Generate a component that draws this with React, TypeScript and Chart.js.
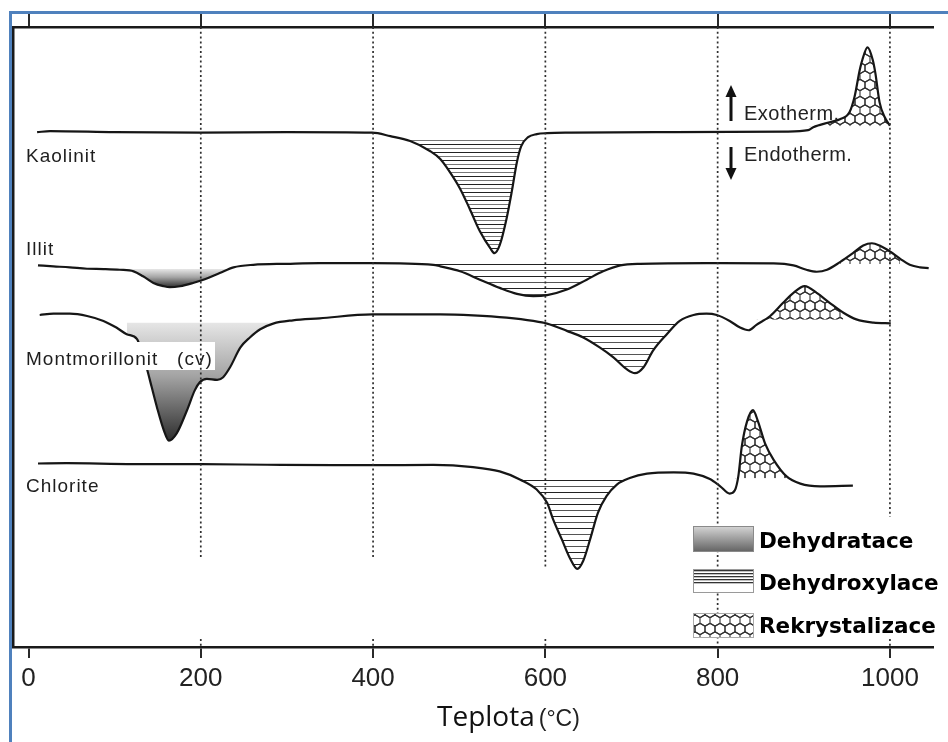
import React, { useEffect, useRef } from "react";
import { Chart, registerables } from "chart.js";

Chart.register(...registerables);

// ---------- data (temperature in °C, signal in arbitrary DTA units) ----------
const tickValues = [0, 200, 400, 600, 800, 1000];

const kaolinitTemp = [10, 25, 100, 200, 300, 399, 420, 443, 466, 478, 489, 501, 512, 524, 536, 541, 547, 555, 561, 567, 572, 580, 590, 602, 630, 750, 880, 905, 911, 930, 942, 953, 959, 965, 968, 974, 980, 983, 988, 994, 1000];
const kaolinitSignal = [519, 520, 519, 518.5, 519, 518.5, 515, 510, 500, 492, 479, 462, 442, 419, 402, 397, 405, 432, 459, 489, 505, 514, 517, 518, 518.5, 519, 519.5, 521, 524, 529, 532, 539, 555, 582, 592, 604.5, 592, 579, 549, 534, 525.5];

const illitTemp = [11, 29, 48, 68, 87, 106, 122, 133, 145, 157, 164, 176, 191, 203, 222, 238, 261, 300, 338, 399, 470, 478, 501, 524, 547, 567, 586, 602, 625, 648, 667, 687, 710, 787, 865, 888, 903, 915, 927, 942, 957, 969, 979, 988, 1000, 1012, 1023, 1035, 1045];
const illitSignal = [384.7, 383.7, 382.7, 381.3, 381, 380.3, 378.7, 373.7, 367, 363.7, 362.7, 363.7, 367, 370.3, 377, 382.7, 385.3, 386.3, 387, 387, 385.3, 383.7, 378.7, 370.3, 362, 356, 353.7, 354.7, 360.3, 370.3, 378.7, 384.7, 386.3, 387, 386.7, 384.7, 380.3, 378.3, 380.3, 388, 397, 404.7, 407, 404.7, 398.7, 391.3, 385.3, 382.7, 382];

const montTemp = [13, 29, 48, 68, 87, 102, 114, 126, 132, 137, 143, 149, 157, 163, 172, 184, 193, 199, 207, 219, 226, 234, 246, 257, 269, 284, 307, 338, 399, 478, 516, 555, 586, 602, 625, 644, 663, 679, 694, 704, 714, 725, 741, 756, 772, 787, 799, 814, 826, 836, 845, 861, 876, 888, 901, 915, 930, 946, 961, 981, 1001];
const montSignal = [334.7, 336, 336, 333.7, 328.7, 322, 315.3, 310.3, 296, 282, 262, 242, 218.7, 208, 215.3, 238.7, 258.7, 267, 270.3, 269.3, 272, 282, 302, 312, 320.3, 326, 329.3, 331.3, 335.3, 335.3, 334.3, 332, 328.7, 326, 318.7, 312, 302, 292, 280.3, 276, 282, 298.7, 315.3, 328.7, 334.7, 336, 334.7, 328.7, 322, 319.3, 324.7, 333.7, 347, 357, 363.7, 357, 347, 337, 330.3, 327, 326.3];

const chloriteTemp = [11, 44, 122, 201, 277, 354, 399, 470, 516, 547, 571, 590, 602, 609, 619, 629, 637, 644, 652, 661, 671, 683, 698, 718, 749, 772, 791, 803, 814, 820, 824, 828, 834, 841, 847, 855, 865, 880, 896, 919, 957];
const chloriteSignal = [185, 185.3, 184.3, 184.3, 183.7, 183.3, 183.3, 183.5, 181.3, 177, 168.7, 158.7, 145.3, 128.7, 108.7, 88.7, 78.7, 87, 108.7, 135.3, 152, 163.7, 170.3, 174.7, 176, 174.7, 169.3, 162, 154.7, 158, 172, 202, 227, 238.7, 227, 205.3, 188.7, 172, 164.7, 162, 162.7];

const curveNames = ["Kaolinit", "Illit", "Montmorillonit   (cv)", "Chlorite"];
const legendLabels = ["Dehydratace", "Dehydroxylace", "Rekrystalizace"];

// phase regions: curve index, pattern, temperature range, baseline, side
const phaseCurve = [0, 0, 1, 1, 1, 2, 2, 2, 3, 3];
const phaseKind = ["hatchDense", "hex", "gradient", "hatch", "hex", "gradient", "hatch", "hex", "hatch", "hex"];
const phaseFrom = [400, 900, 100, 465, 935, 110, 590, 840, 560, 815];
const phaseTo = [600, 1000, 262, 712, 1015, 310, 760, 950, 700, 885];
const phaseBase = [513, 525, 381, 386, 386, 327, 326.5, 330, 169, 170];
const phaseSide = ["below", "above", "below", "below", "above", "below", "below", "above", "below", "above"];

// dotted guide lines
const guideTemps = [200, 400, 600, 800, 1000];
const guideLowerEnds = [88, 88, 81, 0, 131];
const guideTop = 625;
const stubTemps = [200, 400, 600, 1000];
const stubTop = 8;

// ---------------------------------------------------------------------------
const curves = [
  { temp: kaolinitTemp, signal: kaolinitSignal },
  { temp: illitTemp, signal: illitSignal },
  { temp: montTemp, signal: montSignal },
  { temp: chloriteTemp, signal: chloriteSignal },
];

const toPoints = (t: number[], s: number[]) => t.map((x, i) => ({ x, y: s[i] }));

const LINE_FONT = '"Liberation Sans", Arial, sans-serif';

export default function App() {
  const ref = useRef<HTMLCanvasElement>(null);

  useEffect(() => {
    const canvas = ref.current!;
    const mainCtx = canvas.getContext("2d")!;

    const mk = (w: number, h: number, draw: (g: CanvasRenderingContext2D) => void) => {
      const cv = document.createElement("canvas");
      cv.width = w;
      cv.height = h;
      const g = cv.getContext("2d")!;
      draw(g);
      return mainCtx.createPattern(cv, "repeat")!;
    };

    const hatchDense = mk(8, 8, (g) => {
      g.fillStyle = "#222";
      g.fillRect(0, 0, 8, 1);
      g.fillStyle = "#777";
      g.fillRect(0, 4, 8, 1);
    });
    const hatch = mk(8, 12, (g) => {
      g.fillStyle = "#222";
      g.fillRect(0, 0, 8, 1);
      g.fillStyle = "#555";
      g.fillRect(0, 6, 8, 1);
    });
    // pointy-top honeycomb tile
    const hex = mk(10, 17, (g) => {
      g.fillStyle = "#fff";
      g.fillRect(0, 0, 10, 17);
      g.strokeStyle = "#333";
      g.lineWidth = 1.1;
      const s = 17 / 3;
      const hw = 5;
      const centers = [
        [0, 0], [10, 0], [0, 17], [10, 17], [5, 8.5], [5, -8.5], [5, 25.5],
      ];
      for (const [cx, cy] of centers) {
        g.beginPath();
        g.moveTo(cx, cy - s);
        g.lineTo(cx + hw, cy - s / 2);
        g.lineTo(cx + hw, cy + s / 2);
        g.lineTo(cx, cy + s);
        g.lineTo(cx - hw, cy + s / 2);
        g.lineTo(cx - hw, cy - s / 2);
        g.closePath();
        g.stroke();
      }
    });
    const patterns: Record<string, any> = { hatchDense, hatch, hex };

    const gradientFill = (base: number, low: number) => (ctx: any) => {
      const chart = ctx.chart;
      const y = chart.scales && chart.scales.y;
      if (!y) return "#aaa";
      const y0 = y.getPixelForValue(base);
      const y1 = y.getPixelForValue(low);
      if (!isFinite(y0) || !isFinite(y1) || y0 === y1) return "#aaa";
      const g = chart.ctx.createLinearGradient(0, y0, 0, y1);
      g.addColorStop(0, "#e6e6e6");
      g.addColorStop(0.45, "#a4a4a4");
      g.addColorStop(1, "#2e2e2e");
      return g;
    };

    const curveSets = curves.map((c) => ({
      data: toPoints(c.temp, c.signal),
      borderColor: "#161616",
      borderWidth: 2.2,
      pointRadius: 0,
      pointHoverRadius: 0,
      cubicInterpolationMode: "monotone" as const,
      fill: false,
      order: 2,
    }));

    const fillSets = phaseCurve.map((ci, k) => {
      const c = curves[ci];
      const pts = toPoints(c.temp, c.signal).filter((p) => p.x >= phaseFrom[k] && p.x <= phaseTo[k]);
      const low = Math.min(...pts.map((p) => p.y));
      const bg = phaseKind[k] === "gradient" ? gradientFill(phaseBase[k], low) : patterns[phaseKind[k]];
      const fill =
        phaseSide[k] === "below"
          ? { target: { value: phaseBase[k] }, above: "rgba(0,0,0,0)" }
          : { target: { value: phaseBase[k] }, below: "rgba(0,0,0,0)" };
      return {
        data: pts,
        borderColor: "rgba(0,0,0,0)",
        borderWidth: 0,
        backgroundColor: bg,
        pointRadius: 0,
        pointHoverRadius: 0,
        cubicInterpolationMode: "monotone" as const,
        fill,
        order: 3,
      };
    });

    const guideStyle = {
      borderColor: "#2e2e2e",
      borderWidth: 1.7,
      borderDash: [2, 2.8],
      pointRadius: 0,
      pointHoverRadius: 0,
      tension: 0,
      fill: false,
      order: 1,
    };
    const guideSets = guideTemps.map((t, i) => ({
      ...guideStyle,
      data: [
        { x: t, y: guideTop },
        { x: t, y: guideLowerEnds[i] },
      ],
    }));
    const stubSets = stubTemps.map((t) => ({
      ...guideStyle,
      data: [
        { x: t, y: stubTop },
        { x: t, y: 0 },
      ],
    }));

    const labelPlugin = {
      id: "curveLabels",
      afterDatasetDraw(chart: any, args: any) {
        if (args.index !== 0) return;
        const c: CanvasRenderingContext2D = chart.ctx;
        c.save();
        c.fillStyle = "#fff";
        c.fillRect(20, 342, 195, 28);
        c.fillStyle = "#1e1e1e";
        c.font = `19px ${LINE_FONT}`;
        (c as any).letterSpacing = "1px";
        c.textAlign = "left";
        c.textBaseline = "alphabetic";
        const baselines = [162, 255, 365, 492];
        curveNames.forEach((n, i) => c.fillText(n, 26, baselines[i]));
        (c as any).letterSpacing = "0px";
        c.restore();
      },
    };

    const decorPlugin = {
      id: "decor",
      afterDraw(chart: any) {
        const c: CanvasRenderingContext2D = chart.ctx;
        c.save();
        // arrows
        c.fillStyle = "#111";
        c.fillRect(729.5, 96, 3, 25);
        c.beginPath();
        c.moveTo(731, 85);
        c.lineTo(725.5, 97);
        c.lineTo(736.5, 97);
        c.closePath();
        c.fill();
        c.fillRect(729.5, 147, 3, 22);
        c.beginPath();
        c.moveTo(731, 180);
        c.lineTo(725.5, 168);
        c.lineTo(736.5, 168);
        c.closePath();
        c.fill();
        c.fillStyle = "#222";
        c.font = `20px ${LINE_FONT}`;
        (c as any).letterSpacing = "0.5px";
        c.textAlign = "left";
        c.textBaseline = "alphabetic";
        c.fillText("Exotherm.", 744, 119.5);
        c.fillText("Endotherm.", 744, 160.5);
        (c as any).letterSpacing = "0px";

        // legend swatches
        const lg = c.createLinearGradient(0, 526, 0, 552);
        lg.addColorStop(0, "#d6d6d6");
        lg.addColorStop(1, "#626262");
        c.fillStyle = lg;
        c.fillRect(693, 526, 61, 26);
        c.strokeStyle = "#8a8a8a";
        c.lineWidth = 1;
        c.strokeRect(693.5, 526.5, 60, 25);

        c.fillStyle = "#fff";
        c.fillRect(693, 569, 61, 24);
        c.fillStyle = "#333";
        [570, 573, 576, 579, 582].forEach((yy) => c.fillRect(693, yy, 61, 1.3));
        c.strokeStyle = "#9a9a9a";
        c.strokeRect(693.5, 569.5, 60, 23);

        c.fillStyle = patterns.hex;
        c.fillRect(693, 613, 61, 25);
        c.strokeStyle = "#aaa";
        c.strokeRect(693.5, 613.5, 60, 24);

        c.fillStyle = "#000";
        c.font = 'bold 21.5px "DejaVu Sans", Verdana, sans-serif';
        const lb = [548, 589.5, 633];
        legendLabels.forEach((t, i) => c.fillText(t, 759, lb[i]));

        // axis title
        c.fillStyle = "#111";
        c.font = '28px "Open Sans", sans-serif';
        c.fillText("Teplota", 437, 726);
        const w = c.measureText("Teplota").width;
        c.font = `23px ${LINE_FONT}`;
        c.fillStyle = "#222";
        c.fillText("(°C)", 437 + w + 4, 726);

        // blue frame
        c.fillStyle = "#4f81bd";
        c.fillRect(9, 11, 939, 3);
        c.fillRect(9, 11, 3, 731);
        c.restore();
      },
    };

    const tickCb = (v: any) => String(v);
    const setTicks = (axis: any) => {
      axis.ticks = tickValues.map((v) => ({ value: v }));
    };

    const chart = new Chart(canvas, {
      type: "line",
      data: { datasets: [...curveSets, ...fillSets, ...guideSets, ...stubSets] as any },
      options: {
        responsive: false,
        animation: false,
        devicePixelRatio: 1,
        events: [],
        layout: { padding: { left: 13, top: 14, right: 15, bottom: 42.8 } },
        plugins: { legend: { display: false }, tooltip: { enabled: false } },
        scales: {
          x: {
            type: "linear",
            position: "bottom",
            min: -18,
            max: 1050,
            afterBuildTicks: setTicks,
            grid: { drawOnChartArea: false, drawTicks: true, tickLength: 11, color: "#2a2a2a", lineWidth: 2 },
            border: { display: true, color: "#1a1a1a", width: 2.5 },
            ticks: {
              callback: tickCb,
              padding: 5,
              color: "#222",
              font: { family: "Liberation Sans", size: 26 },
              maxRotation: 0,
              autoSkip: false,
            },
          },
          x2: {
            type: "linear",
            position: "top",
            min: -18,
            max: 1050,
            afterBuildTicks: setTicks,
            grid: { drawOnChartArea: false, drawTicks: true, tickLength: 13, color: "#2a2a2a", lineWidth: 2 },
            border: { display: true, color: "#1a1a1a", width: 2.5 },
            ticks: { display: false },
          },
          y: {
            type: "linear",
            position: "left",
            min: 0,
            max: 625,
            grid: { display: false, drawTicks: false },
            border: { display: true, color: "#1a1a1a", width: 2.5 },
            ticks: { display: false },
          },
        },
      } as any,
      plugins: [labelPlugin, decorPlugin],
    });

    return () => chart.destroy();
  }, []);

  return (
    <div style={{ position: "fixed", left: 0, top: 0, width: 948, height: 742, background: "#fff" }}>
      <canvas ref={ref} width={948} height={742} style={{ display: "block", width: 948, height: 742 }} />
    </div>
  );
}
